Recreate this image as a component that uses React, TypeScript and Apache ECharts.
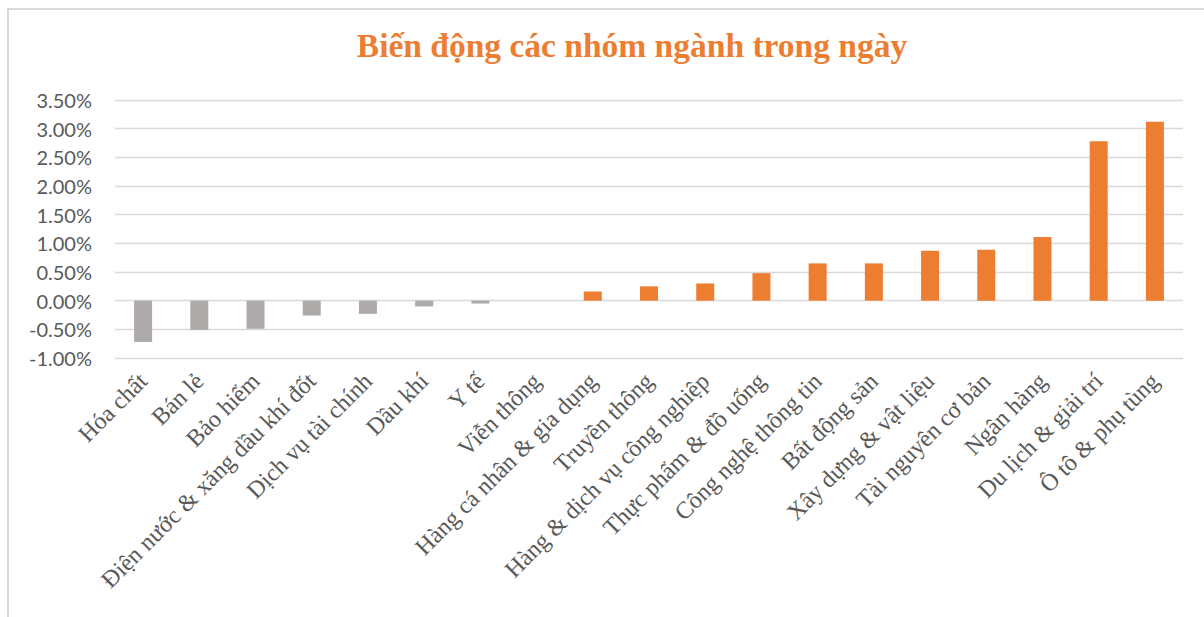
import React, { useEffect, useRef } from "react";
import * as echarts from "echarts";

const categories = [
  "Hóa chất",
  "Bán lẻ",
  "Bảo hiểm",
  "Điện nước & xăng dầu khí đốt",
  "Dịch vụ tài chính",
  "Dầu khí",
  "Y tế",
  "Viễn thông",
  "Hàng cá nhân & gia dụng",
  "Truyền thông",
  "Hàng & dịch vụ công nghiệp",
  "Thực phẩm & đồ uống",
  "Công nghệ thông tin",
  "Bất động sản",
  "Xây dựng & vật liệu",
  "Tài nguyên cơ bản",
  "Ngân hàng",
  "Du lịch & giải trí",
  "Ô tô & phụ tùng",
];

// percent change
const values = [
  -0.72, -0.51, -0.49, -0.26, -0.23, -0.1, -0.05, 0, 0.16, 0.25, 0.3, 0.48,
  0.65, 0.65, 0.87, 0.89, 1.11, 2.78, 3.12,
];

const TITLE = "Biến động các nhóm ngành trong ngày";
const ORANGE = "#ED7D31";
const GRAY = "#AEAAAA";
const TEXT = "#595959";

export default function App() {
  const ref = useRef<HTMLDivElement>(null);
  useEffect(() => {
    if (!ref.current) return;
    const chart = echarts.init(ref.current, undefined, { renderer: "svg" });
    chart.setOption({
      animation: false,
      backgroundColor: "#ffffff",
      graphic: [
        {
          type: "rect",
          shape: { x: 8, y: 9, width: 1400, height: 800 },
          style: { fill: "none", stroke: "#D9D9D9", lineWidth: 2 },
          silent: true,
        },
        {
          type: "text",
          x: 632,
          y: 45,
          style: {
            text: TITLE,
            fill: ORANGE,
            font: "bold 33.5px 'Liberation Serif', serif",
            textAlign: "center",
            textVerticalAlign: "middle",
          },
        },
      ],
      grid: { left: 115, right: 21, top: 100, bottom: 259, containLabel: false },
      xAxis: {
        type: "category",
        data: categories,
        axisLine: { show: false, onZero: false },
        axisTick: { show: false },
        axisLabel: {
          interval: 0,
          rotate: 45,
          margin: 19,
          color: TEXT,
          fontFamily: "'Liberation Serif', serif",
          fontSize: 24,
        },
      },
      yAxis: {
        type: "value",
        min: -1,
        max: 3.5,
        interval: 0.5,
        axisLine: { show: false },
        axisTick: { show: false },
        splitLine: { lineStyle: { color: "#D9D9D9", width: 1.3 } },
        axisLabel: {
          margin: 23,
          color: TEXT,
          fontFamily: "Lato, sans-serif",
          fontSize: 20,
          formatter: (v: number) => v.toFixed(2) + "%",
        },
      },
      series: [
        {
          type: "bar",
          barWidth: 18,
          data: values.map((v) => ({
            value: v,
            itemStyle: { color: v < 0 ? GRAY : ORANGE },
          })),
        },
      ],
    });
    return () => chart.dispose();
  }, []);
  return (
    <div
      ref={ref}
      style={{ position: "absolute", left: 0, top: 0, width: 1204, height: 617 }}
    />
  );
}
